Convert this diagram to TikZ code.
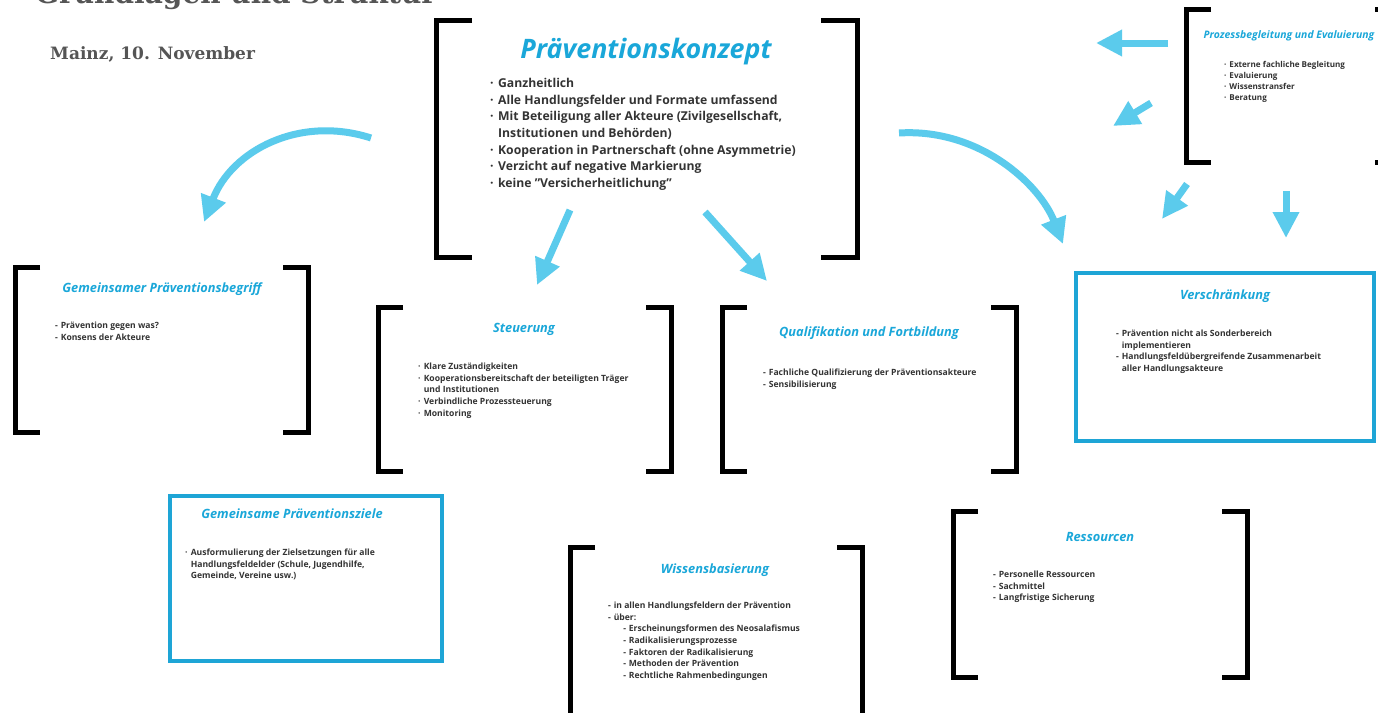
\documentclass[tikz,border=0pt]{standalone}
\usepackage{fontspec}
\setmainfont{Open Sans}
\newfontfamily\slabfont{DejaVu Serif}
\usetikzlibrary{arrows.meta}
\definecolor{cyantitle}{HTML}{1AA7D9}
\definecolor{cyanarrow}{HTML}{5BCBEC}
\definecolor{cyanframe}{HTML}{1EA5D6}
\definecolor{bodygray}{HTML}{333333}
\definecolor{slabgray}{HTML}{555555}
\tikzset{>={Triangle[length=26pt,width=25pt]}}
\newcommand{\bul}{\makebox[0.65em][l]{\textperiodcentered}}
\newcommand{\dsh}{\makebox[0.65em][l]{-}}
\newcommand{\ind}{\hspace*{0.65em}}

\begin{document}
\begin{tikzpicture}[x=1pt,y=-1pt,
  panel/.style={minimum width=#1, inner sep=0pt, outer sep=0pt, anchor=north west},
  bracket/.style={line width=5pt, black},
  frame/.style={draw=cyanframe, line width=4pt},
  head/.style={font=\bfseries\itshape\fontsize{12.8}{15}\selectfont, text=cyantitle, inner sep=0pt},
  items/.style={font=\bfseries\fontsize{8.6}{11.6}\selectfont, text=bodygray, align=left, anchor=north west, inner sep=0pt},
  flow/.style={->, draw=cyanarrow, line width=7pt}]
\clip (0,0) rectangle (1378,712);
\fill[white] (0,0) rectangle (1378,712);

% titel oben links
\node[anchor=base west, inner sep=0pt, font=\slabfont\bfseries\fontsize{28}{30}\selectfont, text=slabgray] (titel) at (35,4) {Grundlagen und Struktur};
\node[anchor=west, inner sep=0pt, font=\slabfont\bfseries\fontsize{17}{20}\selectfont, text=slabgray] (ort) at (50,54) {Mainz, 10. November};

% rahmen mit klammern
\node[panel=421pt, minimum height=237pt] (konzept) at (436,20) {};
\node[panel=293pt, minimum height=165pt] (begriff) at (15,267) {};
\node[panel=293pt, minimum height=164pt] (steuerung) at (378,307) {};
\node[panel=294pt, minimum height=164pt] (quali) at (722,307) {};
\node[panel=214pt, minimum height=153pt] (prozess) at (1186,9) {};
\node[panel=292pt, minimum height=180pt] (wissen) at (570,547) {};
\node[panel=294pt, minimum height=166pt] (ressourcen) at (953,511) {};
\foreach \p/\a in {konzept/36,begriff/25,steuerung/25,quali/25,prozess/25,wissen/25,ressourcen/25} {
  \draw[bracket] ([xshift=\a pt]\p.north west) -- (\p.north west) -- (\p.south west) -- ([xshift=\a pt]\p.south west);
  \draw[bracket] ([xshift=-\a pt]\p.north east) -- (\p.north east) -- (\p.south east) -- ([xshift=-\a pt]\p.south east);
}

% blaue kaesten
\node[panel=298pt, minimum height=168pt, frame] (versch) at (1076,273) {};
\node[panel=272pt, minimum height=165pt, frame] (ziele) at (170,496) {};

% Praeventionskonzept
\node[head, font=\bfseries\itshape\fontsize{26.8}{30}\selectfont] (t-konzept) at (646,52) {Präventionskonzept};
\node[items, font=\bfseries\fontsize{12.2}{16.7}\selectfont] (l-konzept) at (490,78) {%
\bul Ganzheitlich\\
\bul Alle Handlungsfelder und Formate umfassend\\
\bul Mit Beteiligung aller Akteure (Zivilgesellschaft,\\
\ind Institutionen und Behörden)\\
\bul Kooperation in Partnerschaft (ohne Asymmetrie)\\
\bul Verzicht auf negative Markierung\\
\bul keine "Versicherheitlichung"};

\node[head] (t-begriff) at (162,289) {Gemeinsamer Präventionsbegriff};
\node[items] (l-begriff) at (55,322) {\dsh Prävention gegen was?\\ \dsh Konsens der Akteure};

\node[head] (t-steuerung) at (524,329) {Steuerung};
\node[items] (l-steuerung) at (418,363) {%
\bul Klare Zuständigkeiten\\
\bul Kooperationsbereitschaft der beteiligten Träger\\
\ind und Institutionen\\
\bul Verbindliche Prozessteuerung\\
\bul Monitoring};

\node[head] (t-quali) at (869,333) {Qualifikation und Fortbildung};
\node[items] (l-quali) at (763,369) {\dsh Fachliche Qualifizierung der Präventionsakteure\\ \dsh Sensibilisierung};

\node[head] (t-versch) at (1225,296) {Verschränkung};
\node[items] (l-versch) at (1116,330) {%
\dsh Prävention nicht als Sonderbereich\\
\ind implementieren\\
\dsh Handlungsfeldübergreifende Zusammenarbeit\\
\ind aller Handlungsakteure};

\node[head, font=\bfseries\itshape\fontsize{10.4}{12}\selectfont] (t-prozess) at (1289,36) {Prozessbegleitung und Evaluierung};
\node[items, font=\bfseries\fontsize{8.1}{11}\selectfont] (l-prozess) at (1224,61) {%
\bul Externe fachliche Begleitung\\
\bul Evaluierung\\
\bul Wissenstransfer\\
\bul Beratung};

\node[head] (t-ziele) at (292,514) {Gemeinsame Präventionsziele};
\node[items] (l-ziele) at (185,549) {%
\bul Ausformulierung der Zielsetzungen für alle\\
\ind Handlungsfeldelder (Schule, Jugendhilfe,\\
\ind Gemeinde, Vereine usw.)};

\node[head] (t-wissen) at (715,570) {Wissensbasierung};
\node[items] (l-wissen) at (608,602) {%
\dsh in allen Handlungsfeldern der Prävention\\
\dsh über:\\
\hspace*{1.75em}\dsh Erscheinungsformen des Neosalafismus\\
\hspace*{1.75em}\dsh Radikalisierungsprozesse\\
\hspace*{1.75em}\dsh Faktoren der Radikalisierung\\
\hspace*{1.75em}\dsh Methoden der Prävention\\
\hspace*{1.75em}\dsh Rechtliche Rahmenbedingungen};

\node[head] (t-ressourcen) at (1100,537) {Ressourcen};
\node[items] (l-ressourcen) at (993,571) {%
\dsh Personelle Ressourcen\\
\dsh Sachmittel\\
\dsh Langfristige Sicherung};

% pfeile
\coordinate (a1s) at (371,138); \coordinate (a1e) at (204,222);
\coordinate (a2s) at (570,210); \coordinate (a2e) at (537,285);
\coordinate (a3s) at (705,212); \coordinate (a3e) at (767,281);
\coordinate (a4s) at (899,133); \coordinate (a4e) at (1063,244);
\coordinate (a5s) at (1168,43); \coordinate (a5e) at (1096,43);
\coordinate (a6s) at (1151,103); \coordinate (a6e) at (1113,126);
\coordinate (a7s) at (1187,184); \coordinate (a7e) at (1162,219);
\coordinate (a8s) at (1286,191); \coordinate (a8e) at (1286,238);
\draw[flow] (a1s) .. controls (300,115) and (232,150) .. (a1e);
\draw[flow] (a4s) .. controls (980,128) and (1040,185) .. (a4e);
\foreach \a in {2,3,5,6,7,8}
  \draw[flow] (a\a s) -- (a\a e);
\end{tikzpicture}
\end{document}
